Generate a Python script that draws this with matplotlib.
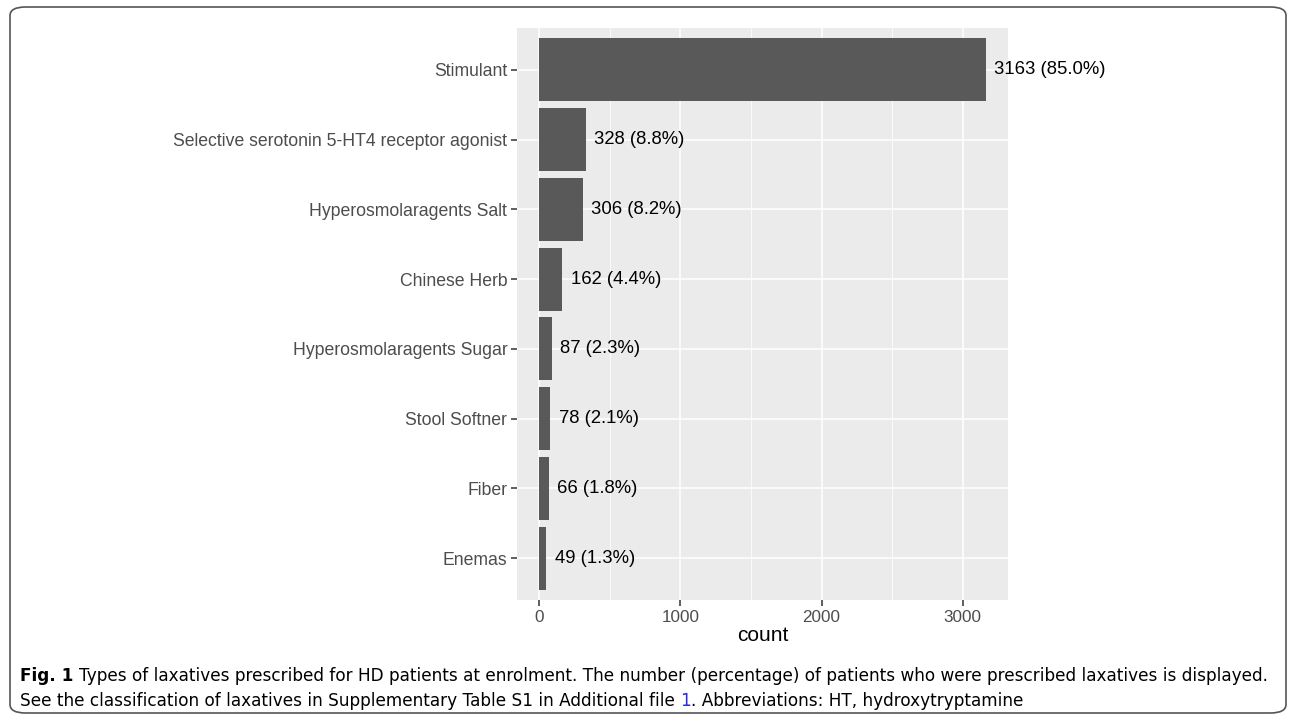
import numpy as np
import matplotlib.pyplot as plt
from matplotlib.patches import FancyBboxPatch
from matplotlib.ticker import MultipleLocator

# data, top to bottom as in the figure
categories = ['Stimulant', 'Selective serotonin 5-HT4 receptor agonist',
              'Hyperosmolaragents Salt', 'Chinese Herb', 'Hyperosmolaragents Sugar',
              'Stool Softner', 'Fiber', 'Enemas']
counts = [3163, 328, 306, 162, 87, 78, 66, 49]
percents = [85.0, 8.8, 8.2, 4.4, 2.3, 2.1, 1.8, 1.3]
xticks = [0, 1000, 2000, 3000]

plt.rcParams['font.family'] = ['Liberation Sans', 'DejaVu Sans']

fig = plt.figure(figsize=(12.96, 7.16), dpi=100)
ax = fig.add_axes([517/1296, 1-600/716, (1008-517)/1296, (600-28)/716])

n = len(categories)
ypos = np.arange(n)[::-1]          # first category on top
ax.set_facecolor('#EBEBEB')
ax.barh(ypos, counts, height=0.9, color='#595959', zorder=3)
for y, c, p in zip(ypos, counts, percents):
    ax.text(c + 60, y, '%d (%.1f%%)' % (c, p), va='center', ha='left',
            fontsize=13.3, color='black', zorder=4)

# ggplot-ish scales and grid
ax.set_xlim(-0.05*max(counts), 1.05*max(counts))
ax.set_ylim(-0.6, n - 1 + 0.6)
ax.set_xticks(xticks)
ax.xaxis.set_minor_locator(MultipleLocator(500))
ax.set_yticks(ypos)
ax.set_yticklabels(categories)
ax.grid(which='major', color='white', linewidth=1.1, zorder=1)
ax.grid(which='minor', axis='x', color='white', linewidth=0.55, zorder=1)
ax.set_axisbelow(True)
for s in ax.spines.values():
    s.set_visible(False)
ax.tick_params(which='major', length=4, width=1.1, color='#333333',
               labelsize=12.7, labelcolor='#4D4D4D', pad=3)
ax.tick_params(axis='x', labelsize=12.3)
ax.tick_params(which='minor', length=0)
ax.set_xlabel('count', fontsize=15, labelpad=1)

# rounded frame around figure + caption
frame = FancyBboxPatch((10/1296, 3/716), 1276/1296, 706/716,
                       boxstyle='round,pad=0,rounding_size=0.012',
                       transform=fig.transFigure, fill=False,
                       edgecolor='#555555', linewidth=1.2)
fig.patches.append(frame)

cap_font = ['DejaVu Sans']
cap_size = 12.2
y1 = 1 - 676/716
y2 = 1 - 701/716
fig.canvas.draw()
r = fig.canvas.get_renderer()


def put(x, y, s, **kw):
    t = fig.text(x, y, s, fontsize=cap_size, family=cap_font, va='center', **kw)
    return t.get_window_extent(renderer=r).x1 / 1296


x = put(20/1296, y1, 'Fig. 1', fontweight='bold')
put(x + 6/1296, y1,
    'Types of laxatives prescribed for HD patients at enrolment. The number (percentage) '
    'of patients who were prescribed laxatives is displayed.')
x = put(20/1296, y2,
        'See the classification of laxatives in Supplementary Table S1 in Additional file ')
x = put(x, y2, '1', color='#2A2AE0')
put(x, y2, '. Abbreviations: HT, hydroxytryptamine')

fig.savefig('out.png', dpi=100)
